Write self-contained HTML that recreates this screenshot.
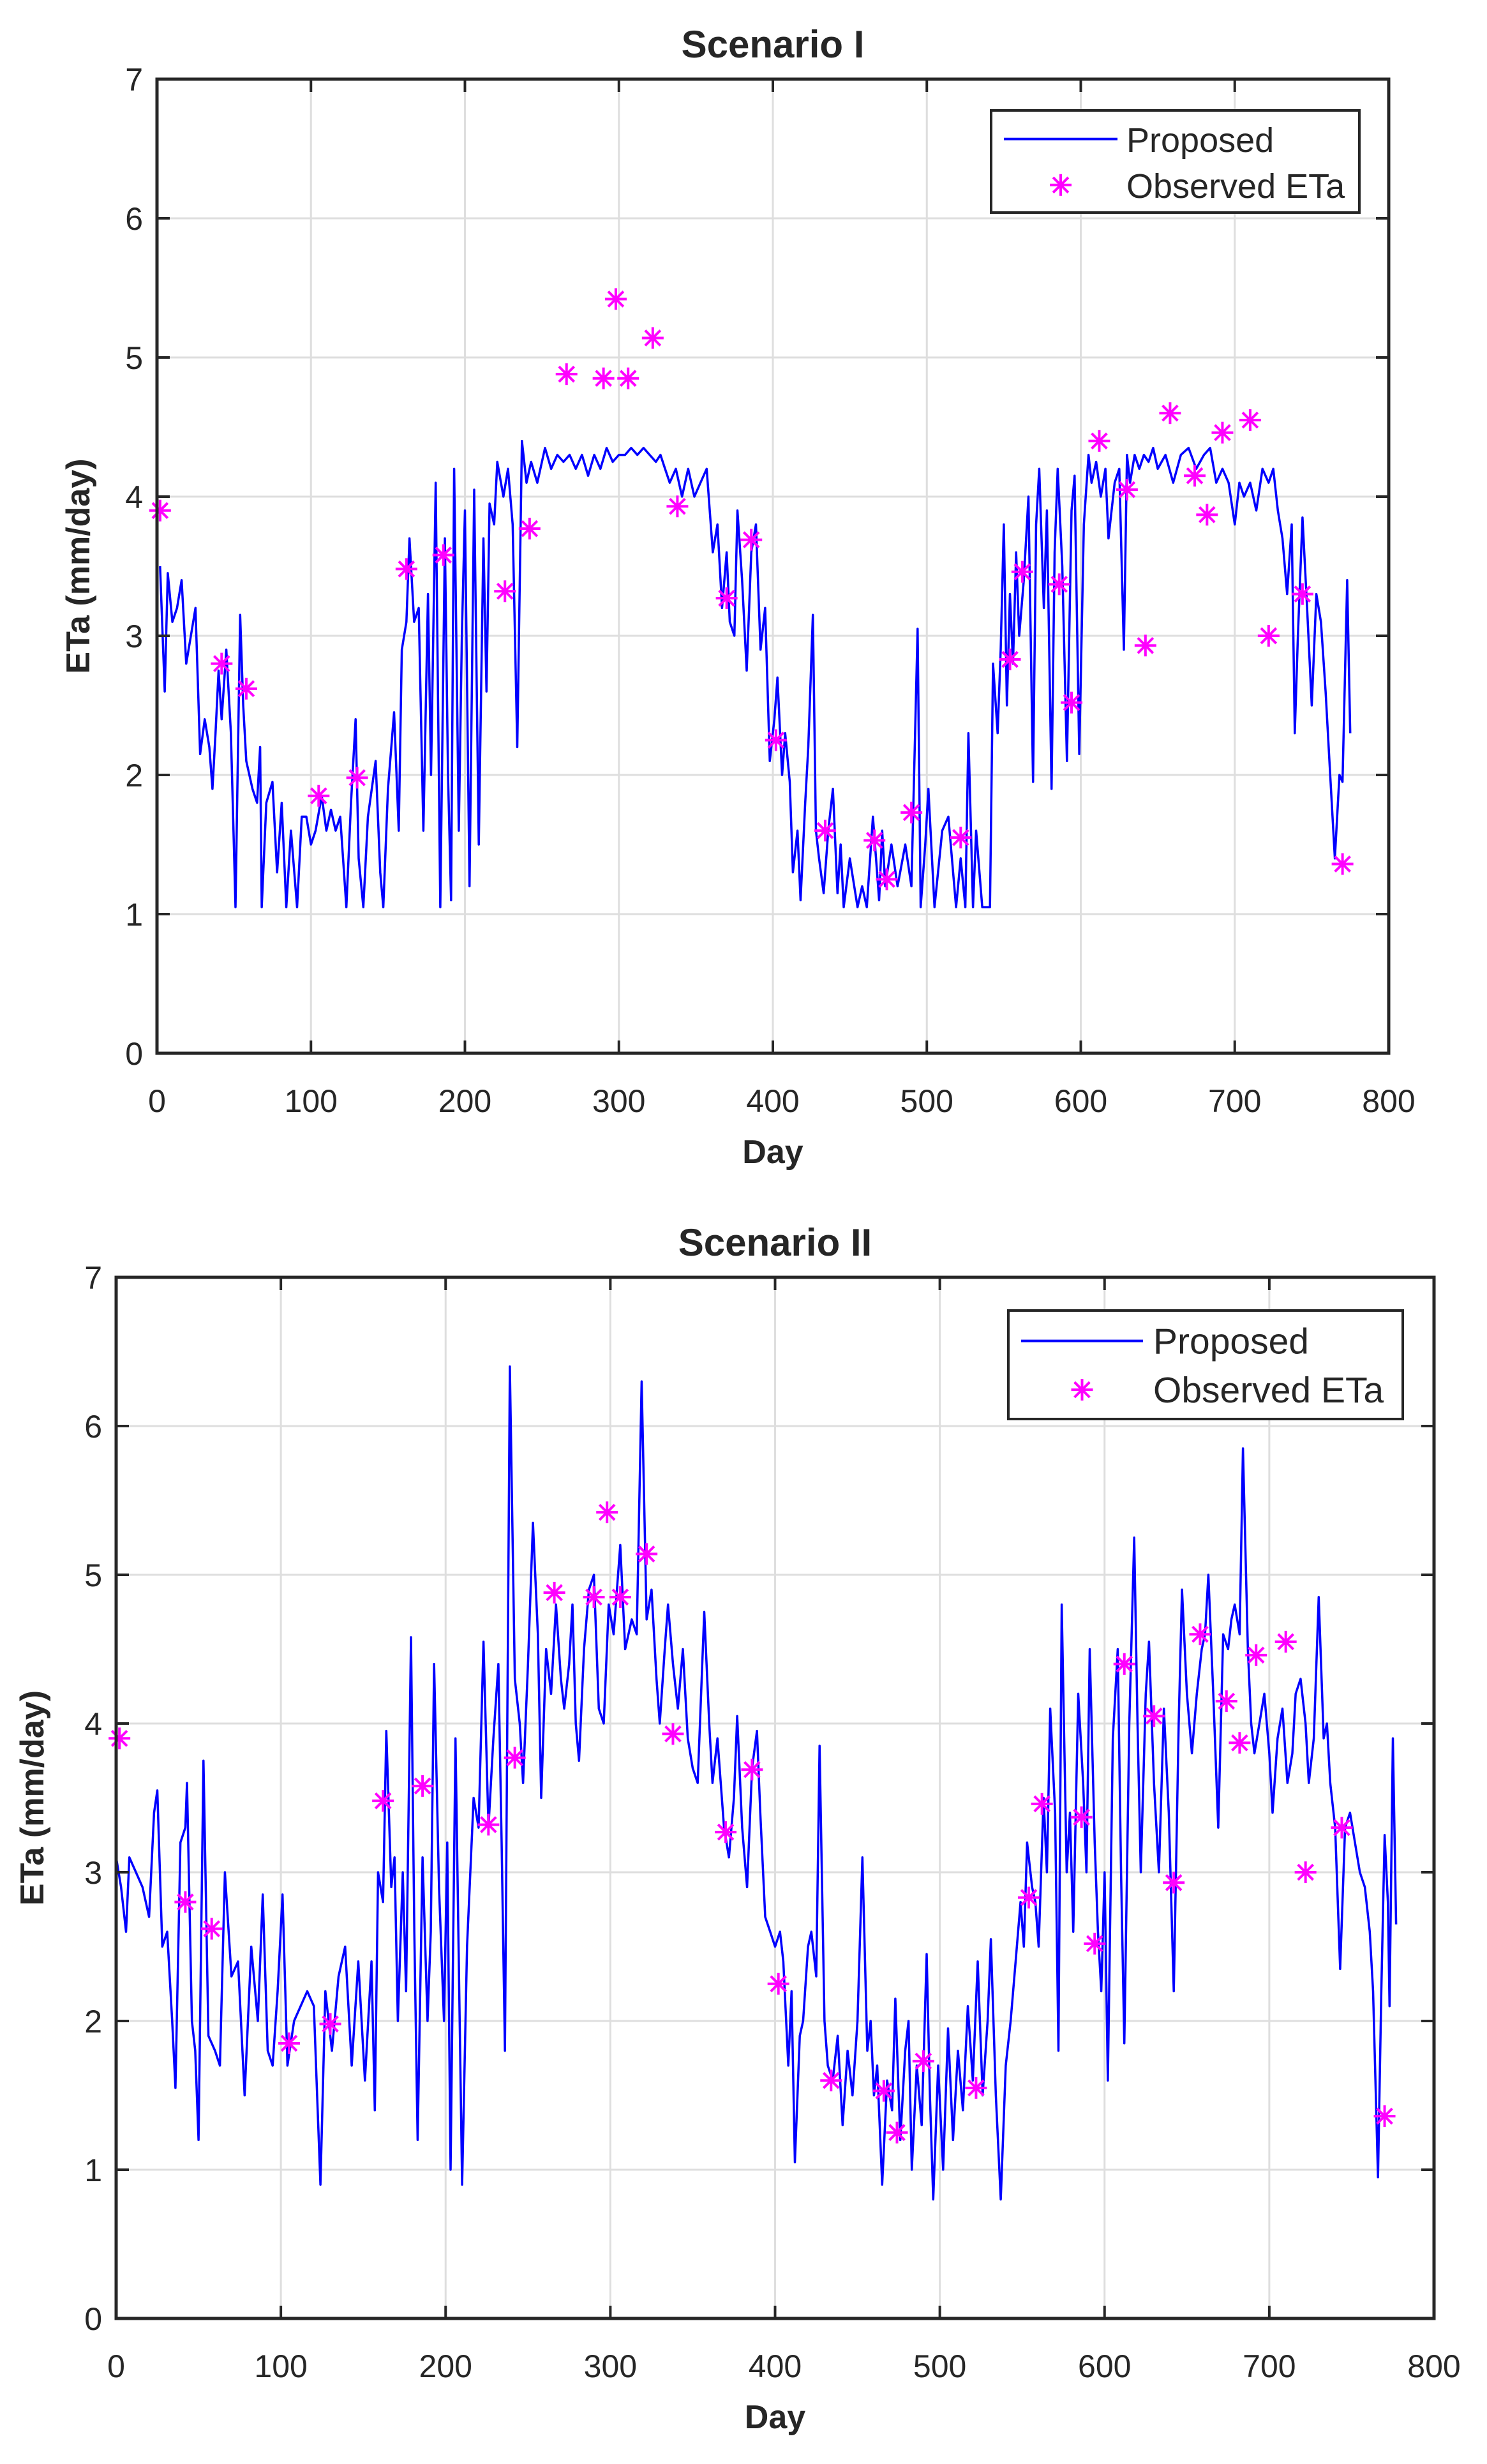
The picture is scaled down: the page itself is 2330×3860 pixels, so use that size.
<!DOCTYPE html>
<html><head><meta charset="utf-8"><style>
html,body{margin:0;padding:0;background:#fff}
svg{display:block}
text{font-family:"Liberation Sans",Arial,sans-serif;fill:#262626}
</style></head><body>
<svg id="fig" width="2330" height="3860" viewBox="0 0 2330 3860" xmlns="http://www.w3.org/2000/svg"></svg>
<script>
const xTicks=[0,100,200,300,400,500,600,700,800];
const yTicks=[0,1,2,3,4,5,6,7];
const obsDays=[2,42,58,105,130,162,186,226,242,266,290,298,306,322,338,370,386,402,434,466,474,490,522,554,562,586,594,612,630,642,658,674,682,692,710,722,744,770];
const obsVals=[3.9,2.8,2.62,1.85,1.98,3.48,3.58,3.32,3.77,4.88,4.85,5.42,4.85,5.14,3.93,3.27,3.69,2.25,1.6,1.53,1.25,1.73,1.55,2.83,3.46,3.37,2.52,4.4,4.05,2.93,4.6,4.15,3.87,4.46,4.55,3.0,3.3,1.36];
// Scenario I proposed series as [day, ETa] pairs
const series1=[[2,3.5],[5,2.6],[7,3.45],[10,3.1],[13,3.2],[16,3.4],[19,2.8],[22,3.0],[25,3.2],[28,2.15],[31,2.4],[34,2.2],[36,1.9],[38,2.3],[40,2.75],[42,2.4],[45,2.9],[48,2.3],[51,1.05],[54,3.15],[56,2.5],[58,2.1],[62,1.9],[65,1.8],[67,2.2],[68,1.05],[71,1.8],[75,1.95],[78,1.3],[81,1.8],[84,1.05],[87,1.6],[91,1.05],[94,1.7],[97,1.7],[100,1.5],[103,1.6],[107,1.85],[110,1.6],[113,1.75],[116,1.6],[119,1.7],[123,1.05],[126,1.8],[129,2.4],[131,1.4],[134,1.05],[137,1.7],[142,2.1],[145,1.3],[147,1.05],[150,1.9],[154,2.45],[157,1.6],[159,2.9],[162,3.1],[164,3.7],[167,3.1],[170,3.2],[173,1.6],[176,3.3],[178,2.0],[181,4.1],[184,1.05],[187,3.7],[189,2.0],[191,1.1],[193,4.2],[196,1.6],[198,3.0],[200,3.9],[203,1.2],[206,4.05],[209,1.5],[212,3.7],[214,2.6],[216,3.95],[219,3.8],[221,4.25],[225,4.0],[228,4.2],[231,3.8],[234,2.2],[237,4.4],[240,4.1],[243,4.25],[247,4.1],[252,4.35],[256,4.2],[260,4.3],[264,4.25],[268,4.3],[272,4.2],[276,4.3],[280,4.15],[284,4.3],[288,4.2],[292,4.35],[296,4.25],[300,4.3],[304,4.3],[308,4.35],[312,4.3],[316,4.35],[320,4.3],[324,4.25],[327,4.3],[330,4.2],[333,4.1],[337,4.2],[341,4.0],[345,4.2],[349,4.0],[353,4.1],[357,4.2],[361,3.6],[364,3.8],[367,3.2],[370,3.6],[372,3.1],[375,3.0],[377,3.9],[380,3.4],[383,2.75],[386,3.6],[389,3.8],[392,2.9],[395,3.2],[398,2.1],[401,2.4],[403,2.7],[406,2.0],[408,2.3],[411,1.95],[413,1.3],[416,1.6],[418,1.1],[421,1.8],[423,2.2],[426,3.15],[428,1.6],[430,1.4],[433,1.15],[436,1.6],[439,1.9],[442,1.15],[444,1.5],[446,1.05],[450,1.4],[455,1.05],[458,1.2],[461,1.05],[465,1.7],[469,1.1],[471,1.6],[473,1.2],[477,1.5],[481,1.2],[486,1.5],[490,1.2],[494,3.05],[496,1.05],[499,1.5],[501,1.9],[505,1.05],[510,1.6],[514,1.7],[519,1.05],[522,1.4],[525,1.05],[527,2.3],[530,1.05],[532,1.6],[536,1.05],[541,1.05],[543,2.8],[546,2.3],[548,2.9],[550,3.8],[552,2.5],[554,3.3],[556,2.8],[558,3.6],[560,3.0],[563,3.4],[566,4.0],[569,1.95],[571,3.8],[573,4.2],[576,3.2],[578,3.9],[581,1.9],[583,3.6],[585,4.2],[588,3.5],[591,2.1],[594,3.9],[596,4.15],[599,2.15],[602,3.8],[605,4.3],[607,4.1],[610,4.25],[613,4.0],[616,4.2],[618,3.7],[622,4.1],[625,4.2],[628,2.9],[630,4.3],[632,4.1],[635,4.3],[638,4.2],[641,4.3],[644,4.25],[647,4.35],[650,4.2],[655,4.3],[660,4.1],[665,4.3],[670,4.35],[675,4.2],[680,4.3],[684,4.35],[688,4.1],[692,4.2],[696,4.1],[700,3.8],[703,4.1],[706,4.0],[710,4.1],[714,3.9],[718,4.2],[722,4.1],[725,4.2],[728,3.9],[731,3.7],[734,3.3],[737,3.8],[739,2.3],[741,3.0],[744,3.85],[747,3.2],[750,2.5],[753,3.3],[756,3.1],[759,2.6],[762,2.0],[765,1.4],[768,2.0],[770,1.95],[773,3.4],[775,2.3]];
const days1=series1.map(p=>p[0]);
const vals1=series1.map(p=>p[1]);
const days2=[0,3,6,8,12,16,20,23,25,28,31,34,36,39,42,43,46,48,50,53,56,60,63,66,70,74,78,82,86,89,92,95,98,101,104,108,112,116,120,122,124,127,131,135,139,143,147,151,155,157,159,162,164,167,169,171,174,176,179,181,183,186,189,191,193,196,199,201,203,206,208,210,213,217,220,223,226,229,232,234,236,239,242,245,247,250,253,256,258,261,264,267,270,272,275,277,279,281,284,287,290,293,296,299,302,306,309,313,316,319,322,325,328,330,333,335,338,341,344,347,350,353,357,360,362,365,369,372,375,377,380,383,386,389,391,394,397,400,403,405,408,410,412,415,417,420,422,425,427,430,432,435,438,441,444,447,450,453,456,458,460,462,465,468,471,473,476,479,481,483,486,489,492,494,496,499,502,505,508,511,514,517,520,523,526,529,531,534,537,540,543,546,549,551,553,556,558,560,563,565,567,570,572,574,577,579,581,584,587,589,591,594,596,598,600,602,605,608,610,612,615,618,620,622,625,627,630,633,636,639,642,645,647,650,653,656,659,661,663,666,669,672,675,677,679,682,684,687,689,691,694,697,700,702,705,708,711,714,716,719,722,724,727,730,733,735,737,740,743,746,749,752,755,758,761,763,766,768,770,772,773,775,777];
const vals2=[3.1,2.9,2.6,3.1,3.0,2.9,2.7,3.4,3.55,2.5,2.6,2.0,1.55,3.2,3.3,3.6,2.0,1.8,1.2,3.75,1.9,1.8,1.7,3.0,2.3,2.4,1.5,2.5,2.0,2.85,1.8,1.7,2.2,2.85,1.7,2.0,2.1,2.2,2.1,1.5,0.9,2.2,1.8,2.3,2.5,1.7,2.4,1.6,2.4,1.4,3.0,2.8,3.95,2.9,3.1,2.0,3.0,2.2,4.58,2.6,1.2,3.1,2.0,2.6,4.4,2.9,2.0,3.2,1.0,3.9,2.4,0.9,2.5,3.5,3.3,4.55,3.3,3.9,4.4,3.2,1.8,6.4,4.3,4.0,3.6,4.4,5.35,4.6,3.5,4.5,4.2,4.8,4.3,4.1,4.4,4.8,4.0,3.75,4.5,4.9,5.0,4.1,4.0,4.8,4.6,5.2,4.5,4.7,4.6,6.3,4.7,4.9,4.3,4.0,4.5,4.8,4.4,4.1,4.5,3.9,3.7,3.6,4.75,4.0,3.6,3.9,3.3,3.1,3.5,4.05,3.3,2.9,3.7,3.95,3.4,2.7,2.6,2.5,2.6,2.4,1.7,2.2,1.05,1.9,2.0,2.5,2.6,2.3,3.85,2.0,1.7,1.6,1.9,1.3,1.8,1.5,2.0,3.1,1.8,2.0,1.5,1.7,0.9,1.6,1.4,2.15,1.2,1.8,2.0,1.0,1.7,1.3,2.45,1.5,0.8,1.7,1.0,1.95,1.2,1.8,1.4,2.1,1.6,2.4,1.5,2.0,2.55,1.5,0.8,1.7,2.0,2.4,2.8,2.5,3.2,2.9,2.8,2.5,3.5,3.0,4.1,3.4,1.8,4.8,3.0,3.4,2.6,4.2,3.6,3.0,4.5,3.2,2.6,2.2,3.0,1.6,3.9,4.5,3.0,1.85,4.0,5.25,4.0,3.0,4.2,4.55,3.6,3.0,4.1,3.4,2.2,4.0,4.9,4.2,3.8,4.2,4.5,4.6,5.0,4.2,3.3,4.6,4.5,4.7,4.8,4.6,5.85,4.5,4.0,3.8,4.0,4.2,3.8,3.4,3.9,4.1,3.6,3.8,4.2,4.3,4.0,3.6,3.9,4.85,3.9,4.0,3.6,3.3,2.35,3.3,3.4,3.2,3.0,2.9,2.6,2.2,0.95,2.2,3.25,2.8,2.1,3.9,2.65];

const NS="http://www.w3.org/2000/svg";
const svg=document.getElementById('fig');
function el(tag,attrs,parent){const e=document.createElementNS(NS,tag);for(const k in attrs)e.setAttribute(k,attrs[k]);(parent||svg).appendChild(e);return e;}

function drawChart(cfg){
  const g=el('g',{});
  
  
  const sx=d=>cfg.L+(cfg.R-cfg.L)*d/800;
  const sy=v=>cfg.B-(cfg.B-cfg.T)*v/7;
  xTicks.forEach(t=>{const l=el('line',{x1:sx(t),x2:sx(t),y1:cfg.T,y2:cfg.B,stroke:'#dedede','stroke-width':3},g);
    
    });
  yTicks.forEach(t=>{const l=el('line',{x1:cfg.L,x2:cfg.R,y1:sy(t),y2:sy(t),stroke:'#dedede','stroke-width':3},g);
    
    });
  const n=Math.min(cfg.days.length,cfg.vals.length);
  const pts=cfg.days.slice(0,n).map((d,i)=>sx(d).toFixed(1)+','+sy(cfg.vals[i]).toFixed(1)).join(' ');
  const pl=el('polyline',{points:pts,fill:'none',stroke:'#0000ff','stroke-width':3.5,'stroke-linejoin':'round'},g);
  
  
  function star(cx,cy,parent){
    const s=el('g',{stroke:'#ff00ff','stroke-width':4},parent);
    const r=17;
    el('line',{x1:cx-r,x2:cx+r,y1:cy,y2:cy},s);
    el('line',{x1:cx,x2:cx,y1:cy-r,y2:cy+r},s);
    el('line',{x1:cx-r*0.7,x2:cx+r*0.7,y1:cy-r*0.7,y2:cy+r*0.7},s);
    el('line',{x1:cx-r*0.7,x2:cx+r*0.7,y1:cy+r*0.7,y2:cy-r*0.7},s);
    return s;
  }
  obsDays.forEach((d,i)=>{const s=star(sx(d),sy(obsVals[i]),g);
    
    });
  const box=el('rect',{x:cfg.L,y:cfg.T,width:cfg.R-cfg.L,height:cfg.B-cfg.T,fill:'none',stroke:'#262626','stroke-width':5},g);
  
  
  xTicks.forEach(t=>{
    el('line',{x1:sx(t),x2:sx(t),y1:cfg.B,y2:cfg.B-20,stroke:'#262626','stroke-width':4},g);
    el('line',{x1:sx(t),x2:sx(t),y1:cfg.T,y2:cfg.T+20,stroke:'#262626','stroke-width':4},g);
    const tx=el('text',{x:sx(t),y:cfg.B+92,'text-anchor':'middle','font-size':50},g);
    tx.textContent=t;
    
    
  });
  yTicks.forEach(t=>{
    el('line',{x1:cfg.L,x2:cfg.L+20,y1:sy(t),y2:sy(t),stroke:'#262626','stroke-width':4},g);
    el('line',{x1:cfg.R,x2:cfg.R-20,y1:sy(t),y2:sy(t),stroke:'#262626','stroke-width':4},g);
    const ty=el('text',{x:cfg.L-22,y:sy(t)+18,'text-anchor':'end','font-size':50},g);
    ty.textContent=t;
    
    
  });
  const title=el('text',{x:(cfg.L+cfg.R)/2,y:cfg.T-34,'text-anchor':'middle','font-size':60,'font-weight':'bold',fill:'#000'},g);
  title.textContent=cfg.title;
  
  
  const xl=el('text',{x:(cfg.L+cfg.R)/2,y:cfg.B+172,'text-anchor':'middle','font-size':52,'font-weight':'bold'},g);
  xl.textContent='Day';
  
  
  const yl=el('text',{x:0,y:0,'text-anchor':'middle','font-size':52,'font-weight':'bold',transform:`translate(${cfg.ylx},${(cfg.T+cfg.B)/2}) rotate(-90)`},g);
  yl.textContent='ETa (mm/day)';
  
  
  const lg=el('g',{},g);
  
  
  const lb=cfg.leg;
  el('rect',{x:lb.x,y:lb.y,width:lb.w,height:lb.h,fill:'#fff',stroke:'#262626','stroke-width':4},lg);
  const ll=el('line',{x1:lb.x+20,x2:lb.x+20+lb.lw,y1:lb.y+lb.h*0.28,y2:lb.y+lb.h*0.28,stroke:'#0000ff','stroke-width':4},lg);
  
  
  const t1=el('text',{x:lb.x+lb.tx,y:lb.y+lb.h*0.28+20,'font-size':lb.fs,fill:'#000'},lg);
  t1.textContent='Proposed';
  const ls=star(lb.x+20+lb.lw/2,lb.y+lb.h*0.73,lg);
  
  
  const t2=el('text',{x:lb.x+lb.tx,y:lb.y+lb.h*0.73+20,'font-size':lb.fs,fill:'#000'},lg);
  t2.textContent='Observed ETa';
}

drawChart({id:'chart-scenario-1',title:'Scenario I',L:246,R:2176,T:124,B:1650,ylx:140,days:days1,vals:vals1,
  leg:{x:1553,y:173,w:577,h:160,lw:178,tx:212,fs:54}});
drawChart({id:'chart-scenario-2',title:'Scenario II',L:182,R:2247,T:2001,B:3632,ylx:68,days:days2,vals:vals2,
  leg:{x:1580,y:2053,w:618,h:170,lw:191,tx:227,fs:57}});
</script>
</body></html>
